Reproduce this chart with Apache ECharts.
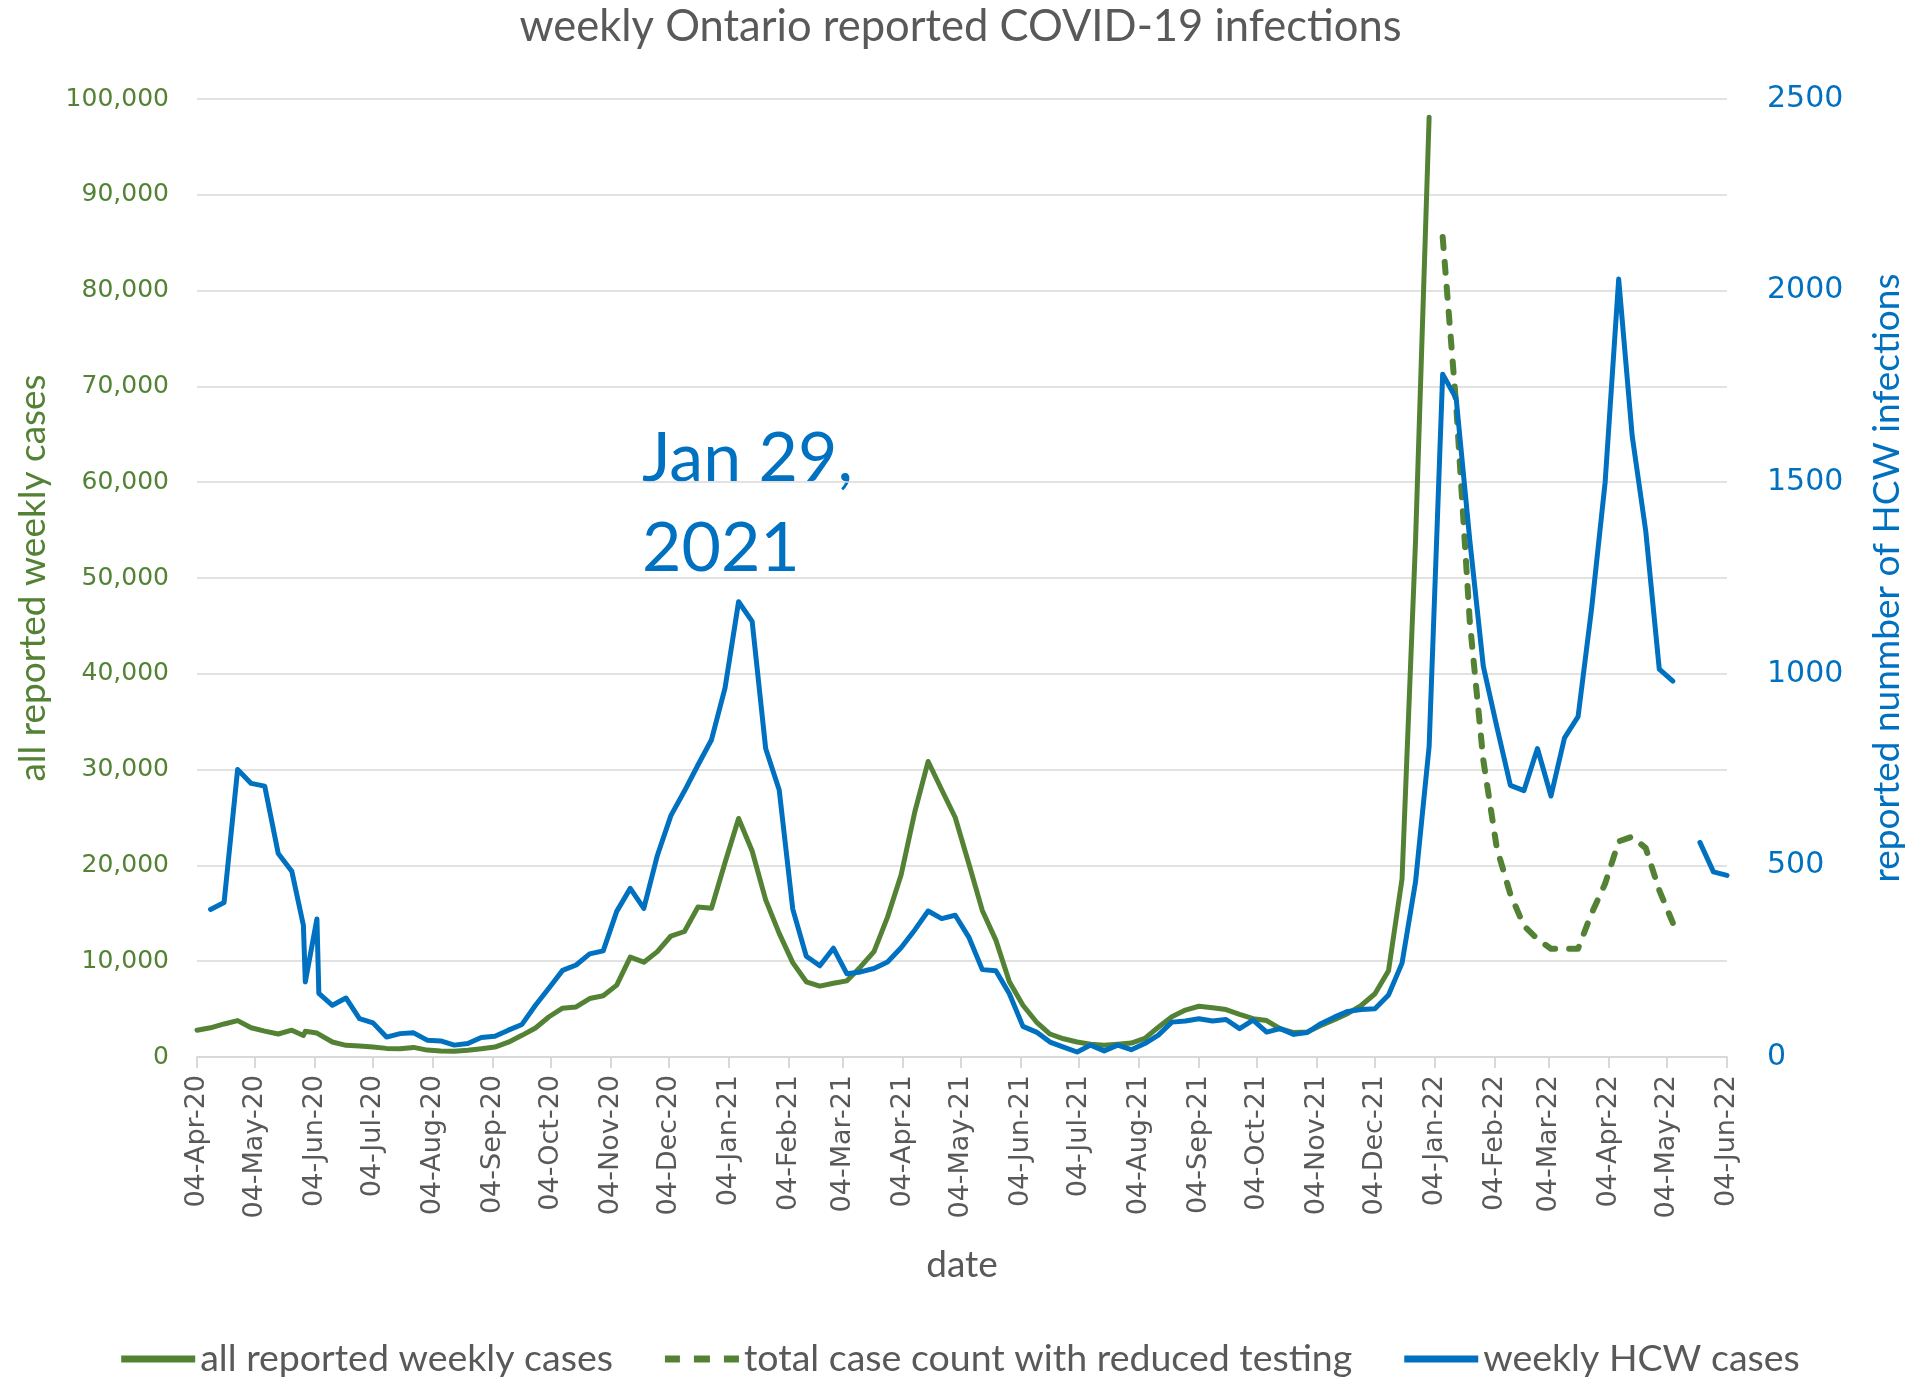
<!DOCTYPE html>
<html>
<head>
<meta charset="utf-8">
<title>weekly Ontario reported COVID-19 infections</title>
<script src="https://cdn.jsdelivr.net/npm/echarts@6/dist/echarts.min.js"></script>
<style>
  html, body { margin: 0; padding: 0; background: #ffffff; }
  #chart { width: 1921px; height: 1378px; }
</style>
</head>
<body>
<div id="chart"></div>
<script>
// Reporting dates (weekly, plus two extra reporting days in late May / early June 2020)
const dates = [
  '2020-04-04','2020-04-11','2020-04-18','2020-04-25','2020-05-02','2020-05-09','2020-05-16','2020-05-23',
  '2020-05-29','2020-05-30','2020-06-05','2020-06-06','2020-06-13','2020-06-20','2020-06-27','2020-07-04',
  '2020-07-11','2020-07-18','2020-07-25','2020-08-01','2020-08-08','2020-08-15','2020-08-22','2020-08-29',
  '2020-09-05','2020-09-12','2020-09-19','2020-09-26','2020-10-03','2020-10-10','2020-10-17','2020-10-24',
  '2020-10-31','2020-11-07','2020-11-14','2020-11-21','2020-11-28','2020-12-05','2020-12-12','2020-12-19',
  '2020-12-26','2021-01-02','2021-01-09','2021-01-16','2021-01-23','2021-01-30','2021-02-06','2021-02-13',
  '2021-02-20','2021-02-27','2021-03-06','2021-03-13','2021-03-20','2021-03-27','2021-04-03','2021-04-10',
  '2021-04-17','2021-04-24','2021-05-01','2021-05-08','2021-05-15','2021-05-22','2021-05-29','2021-06-05',
  '2021-06-12','2021-06-19','2021-06-26','2021-07-03','2021-07-10','2021-07-17','2021-07-24','2021-07-31',
  '2021-08-07','2021-08-14','2021-08-21','2021-08-28','2021-09-04','2021-09-11','2021-09-18','2021-09-25',
  '2021-10-02','2021-10-09','2021-10-16','2021-10-23','2021-10-30','2021-11-06','2021-11-13','2021-11-20',
  '2021-11-27','2021-12-04','2021-12-11','2021-12-18','2021-12-25','2022-01-01','2022-01-08','2022-01-15',
  '2022-01-22','2022-01-29','2022-02-05','2022-02-12','2022-02-19','2022-02-26','2022-03-05','2022-03-12',
  '2022-03-19','2022-03-26','2022-04-02','2022-04-09','2022-04-16','2022-04-23','2022-04-30','2022-05-07',
  '2022-05-14','2022-05-21','2022-05-28','2022-06-04'
];

// all reported weekly cases, from 2020-04-04
const allCases = [
  2800, 3050, 3450, 3800, 3050, 2700, 2400, 2800,
  2250, 2680, 2500, 2400, 1570, 1220, 1150, 1040,
  900, 870, 1000, 720, 620, 600, 700, 870,
  1040, 1550, 2260, 3030, 4200, 5100, 5220, 6100,
  6400, 7500, 10430, 9900, 11000, 12630, 13100, 15660,
  15520, 20300, 24900, 21500, 16400, 12900, 9850, 7850,
  7400, 7700, 7950, 9400, 11000, 14600, 19000, 25500,
  30850, 27900, 25000, 20200, 15300, 12200, 7850, 5400,
  3650, 2400, 1900, 1570, 1330, 1220, 1330, 1460,
  1950, 3100, 4200, 4900, 5300, 5150, 4950, 4450,
  4000, 3800, 2950, 2550, 2600, 3300, 3900, 4550,
  5400, 6600, 9000, 18600, 54000, 98100
];
const allCasesFrom = '2020-04-04';

// total case count with reduced testing, from 2022-01-08
const reducedTesting = [
  85600, 68000, 45500, 31000, 21800, 17000, 13700, 12300,
  11300, 11300, 11300, 15000, 18100, 22500, 23000, 21800,
  17400, 14000
];
const reducedTestingFrom = '2022-01-08';

// weekly HCW cases (right axis), from 2020-04-11; null = week not reported
const hcwCases = [
  385, 403, 750, 714, 707, 531, 485,
  344, 196, 360, 166, 135, 154, 100, 89,
  52, 61, 63, 44, 42, 31, 35, 51,
  54, 70, 85, 135, 180, 226, 240, 269,
  277, 380, 440, 388, 526, 630, 694, 762,
  828, 963, 1188, 1137, 805, 697, 386, 263,
  238, 284, 217, 222, 231, 248, 285, 331,
  381, 361, 370, 313, 228, 225, 165, 80,
  65, 39, 26, 13, 31, 16, 31, 19,
  35, 57, 91, 94, 100, 94, 98, 74,
  96, 65, 74, 59, 64, 87, 104, 119,
  124, 126, 162, 245, 458, 810, 1782, 1718,
  1350, 1020, 862, 709, 695, 805, 681, 833,
  888, 1170, 1500, 2030, 1620, 1372, 1012, 981,
  null, 560, 483, 474
];
const hcwCasesFrom = '2020-04-11';

// axis ranges and tick labels
const axisStart = '2020-04-04';
const axisEnd = '2022-06-04';
const leftAxisMax = 100000;
const leftAxisStep = 10000;
const rightAxisMax = 2500;
const rightAxisStep = 500;
const monthNames = ['Jan','Feb','Mar','Apr','May','Jun','Jul','Aug','Sep','Oct','Nov','Dec'];

const GREEN = '#548235';
const BLUE = '#0070C0';
const GREY = '#595959';
const GRID = '#d9d9d9';

// legend keys: a thick bar for the solid lines, three short dashes for the dashed one
const ICON_SOLID = 'path://M0,0H74V7H0Z';
const ICON_DASHED = 'path://M0,0H15V7H0Z M29,0H45V7H29Z M59,0H74V7H59Z';

function toTs(s) {
  const [y, m, d] = s.split('-').map(Number);
  return Date.UTC(y, m - 1, d);
}

function pairs(values, from) {
  const i0 = dates.indexOf(from);
  return values.map((v, j) => [toTs(dates[i0 + j]), v]);
}

// tick on the 4th of every month across the axis range
const monthTicks = [];
(function () {
  const s = new Date(toTs(axisStart));
  const e = toTs(axisEnd);
  let y = s.getUTCFullYear(), m = s.getUTCMonth();
  while (Date.UTC(y, m, 4) <= e) {
    monthTicks.push(Date.UTC(y, m, 4));
    m++;
    if (m > 11) { m = 0; y++; }
  }
})();

function fmtDate(v) {
  const d = new Date(v);
  const dd = String(d.getUTCDate()).padStart(2, '0');
  return dd + '-' + monthNames[d.getUTCMonth()] + '-' + String(d.getUTCFullYear()).slice(2);
}

const chart = echarts.init(document.getElementById('chart'), null, { renderer: 'canvas' });

const option = {
  animation: false,
  backgroundColor: '#ffffff',
  title: {
    text: 'weekly Ontario reported COVID-19 infections',
    left: 'center',
    top: 0,
    textStyle: { fontFamily: 'Lato', fontSize: 43.5, fontWeight: 'normal', color: GREY }
  },
  grid: { left: 197, right: 194, top: 99, bottom: 321 },
  legend: {
    top: 1335,
    left: 'center',
    itemWidth: 74,
    itemHeight: 7,
    itemGap: 52,
    textStyle: { fontFamily: 'Lato', fontSize: 37.5, color: GREY },
    data: [
      { name: 'all reported weekly cases', icon: ICON_SOLID },
      { name: 'total case count with reduced testing', icon: ICON_DASHED },
      { name: 'weekly HCW cases', icon: ICON_SOLID }
    ]
  },
  xAxis: {
    type: 'value',
    min: toTs(axisStart),
    max: toTs(axisEnd),
    name: 'date',
    nameLocation: 'middle',
    nameGap: 190,
    nameTextStyle: { fontFamily: 'Lato', fontSize: 37, color: GREY },
    axisLine: { show: true, onZero: false, lineStyle: { color: GRID, width: 2 } },
    axisTick: { show: true, customValues: monthTicks, length: 11, lineStyle: { color: GRID, width: 2 } },
    axisLabel: {
      customValues: monthTicks,
      rotate: 90,
      margin: 18,
      formatter: fmtDate,
      fontFamily: 'DejaVu Sans',
      fontSize: 27,
      color: GREY
    },
    splitLine: { show: false }
  },
  yAxis: [
    {
      type: 'value',
      position: 'left',
      min: 0,
      max: leftAxisMax,
      interval: leftAxisStep,
      name: 'all reported weekly cases',
      nameLocation: 'middle',
      nameRotate: 90,
      nameGap: 145,
      nameTextStyle: { fontFamily: 'Lato', fontSize: 37, color: GREEN },
      axisLine: { show: false },
      axisTick: { show: false },
      axisLabel: {
        margin: 28,
        fontFamily: 'DejaVu Sans',
        fontSize: 25,
        color: GREEN,
        formatter: v => v.toLocaleString('en-US')
      },
      splitLine: { show: true, lineStyle: { color: GRID, width: 1.5 } }
    },
    {
      type: 'value',
      position: 'right',
      min: 0,
      max: rightAxisMax,
      interval: rightAxisStep,
      name: 'reported nunmber of HCW infections',
      nameLocation: 'middle',
      nameRotate: 90,
      nameGap: 142,
      nameTextStyle: { fontFamily: 'Lato', fontSize: 37, color: BLUE },
      axisLine: { show: false },
      axisTick: { show: false },
      axisLabel: {
        margin: 40,
        fontFamily: 'DejaVu Sans',
        fontSize: 30,
        color: BLUE,
        formatter: v => String(v)
      },
      splitLine: { show: false }
    }
  ],
  series: [
    {
      name: 'all reported weekly cases',
      type: 'line',
      yAxisIndex: 0,
      symbol: 'none',
      color: GREEN,
      lineStyle: { color: GREEN, width: 5, join: 'round', cap: 'round' },
      data: pairs(allCases, allCasesFrom)
    },
    {
      name: 'total case count with reduced testing',
      type: 'line',
      yAxisIndex: 0,
      symbol: 'none',
      color: GREEN,
      lineStyle: { color: GREEN, width: 6, type: [11, 14], cap: 'round', join: 'round' },
      data: pairs(reducedTesting, reducedTestingFrom)
    },
    {
      name: 'weekly HCW cases',
      type: 'line',
      yAxisIndex: 1,
      symbol: 'none',
      color: BLUE,
      connectNulls: false,
      lineStyle: { color: BLUE, width: 5, join: 'round', cap: 'round' },
      data: pairs(hcwCases, hcwCasesFrom)
    }
  ],
  graphic: [
    {
      type: 'text',
      left: 642,
      top: 414,
      style: {
        text: 'Jan 29,\n2021',
        fontFamily: 'Lato',
        fontSize: 68,
        lineHeight: 90,
        fill: BLUE
      }
    }
  ]
};

chart.setOption(option);
</script>
</body>
</html>
